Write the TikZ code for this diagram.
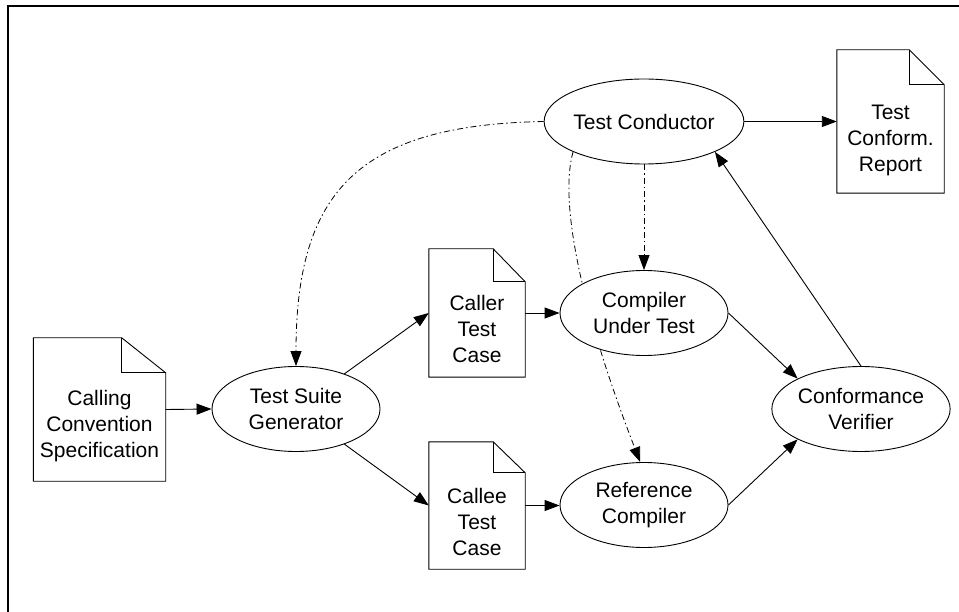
\documentclass[tikz,border=0pt]{standalone}
\usepackage{fontspec}
\setmainfont{Liberation Sans}
\usetikzlibrary{shapes.geometric,arrows.meta,backgrounds}
\tikzset{
  proc/.style={ellipse,draw,fill=white,line width=0.9pt,minimum width=168pt,minimum height=85pt,inner sep=0pt,align=center,font=\fontsize{21}{26}\selectfont},
  docbox/.style={rectangle,inner sep=0pt},
  doctext/.style={align=center,inner sep=0pt,font=\fontsize{21}{26}\selectfont},
  flow/.style={line width=0.9pt,-{Triangle[length=15pt,width=11pt]}},
  ctrl/.style={line width=0.8pt,dash pattern=on 6pt off 3pt on 1.5pt off 3pt,-{Triangle[length=15pt,width=11pt]}},
  docline/.style={line width=0.9pt}
}
\newcommand\docoutline[3]{%
  \draw[docline,fill=white] (#1.north west) -- ([xshift=-#2]#1.north east) -- ([yshift=-#3]#1.north east) -- (#1.south east) -- (#1.south west) -- cycle;
  \draw[docline] ([xshift=-#2]#1.north east) |- ([yshift=-#3]#1.north east);
}
\begin{document}
\begin{tikzpicture}[x=1pt,y=-1pt]
\useasboundingbox (0,0) rectangle (959,612);
\draw[line width=2pt] (8.3,613) -- (8.3,6) -- (960,6);

% ellipses
\node[proc] (tc)  at (644,121.5) {Test Conductor};
\node[proc] (cut) at (644,313) {Compiler\\Under Test};
\node[proc] (rc)  at (644,505) {Reference\\Compiler};
\node[proc] (cv)  at (861,409) {Conformance\\Verifier};
\node[proc] (tsg) at (296,409) {Test Suite\\Generator};

% documents
\node[docbox,minimum width=132pt,minimum height=143pt] (ccs) at (99.5,409.5) {};
\docoutline{ccs}{44pt}{35pt}
\node[doctext] (ccst) at ([yshift=-17pt]ccs.center) {Calling\\Convention\\Specification};

\node[docbox,minimum width=96pt,minimum height=128pt] (caller) at (477,313) {};
\docoutline{caller}{32pt}{33pt}
\node[doctext] (callert) at ([yshift=-16pt]caller.center) {Caller\\Test\\Case};

\node[docbox,minimum width=96pt,minimum height=127pt] (callee) at (477,505.5) {};
\docoutline{callee}{32pt}{31pt}
\node[doctext] (calleet) at ([yshift=-16pt]callee.center) {Callee\\Test\\Case};

\node[docbox,minimum width=107pt,minimum height=143pt] (rep) at (890.5,121.5) {};
\docoutline{rep}{35pt}{35pt}
\node[doctext] (rept) at ([yshift=-18.5pt]rep.center) {Test\\Conform.\\Report};

% solid flows
\draw[flow] (ccs.east) -- (tsg.west);
\draw[flow] (tsg.36) -- (caller.west);
\draw[flow] (tsg.-36) -- (callee.west);
\draw[flow] (caller.east) -- (cut.west);
\draw[flow] (callee.east) -- (callee.east -| rc.west);
\draw[flow] (cut.east) -- (cv.north west);
\draw[flow] (rc.east) -- (cv.south west);
\draw[flow] (cv.north) -- (tc.south east);
\draw[flow] (tc.east) -- (rep.west);

% control flows (dash-dot)
\draw[ctrl] (tc.west) .. controls (360,125) and (296,190) .. (tsg.north);
\draw[ctrl] (tc.south) -- (cut.north);
\begin{pgfonlayer}{background}
\draw[ctrl] (tc.south west) .. controls (558,205) and (585,320) .. (rc.95);
\end{pgfonlayer}
\end{tikzpicture}
\end{document}
